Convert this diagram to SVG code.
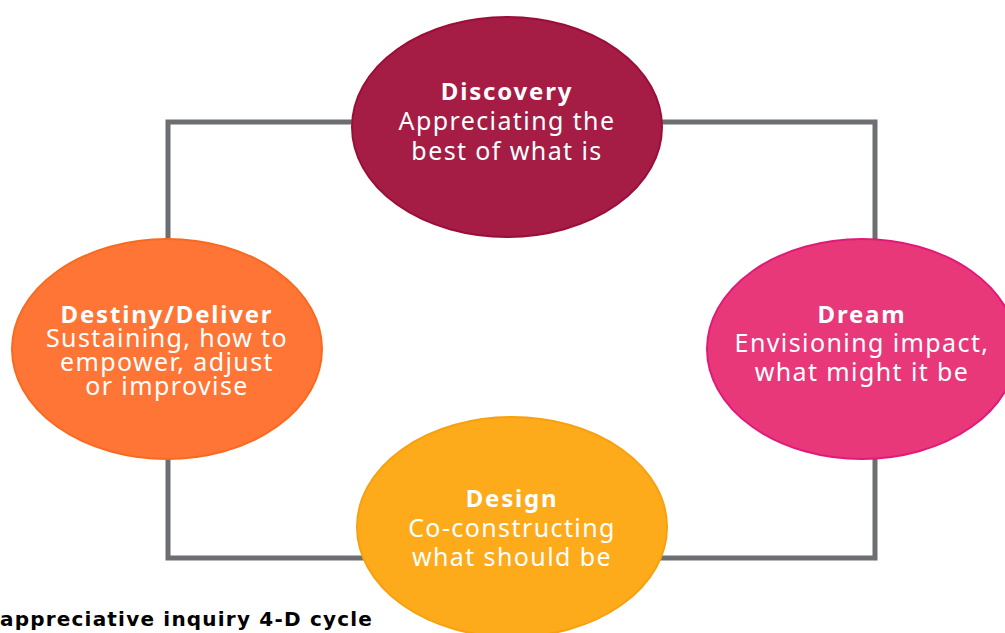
<svg xmlns="http://www.w3.org/2000/svg" width="1005" height="633" viewBox="0 0 1005 633">
<style>
.conn{fill:none;stroke:#6d6e71;stroke-width:5}
.t{font-family:"Noto Sans","Open Sans",sans-serif;fill:#ffffff;text-anchor:middle;font-size:25px;letter-spacing:1.4px}
.h{font-weight:bold;font-size:24px;letter-spacing:1.8px}
.cap{font-family:"DejaVu Sans",Verdana,sans-serif;font-weight:bold;font-size:20px;letter-spacing:1.2px;fill:#000000}
</style>
<rect width="1005" height="633" fill="#ffffff"/>
<g id="connectors">
<rect class="conn" x="168" y="122" width="707" height="436"/>
</g>
<g id="discovery">
<ellipse cx="507" cy="127" rx="155" ry="110" fill="#a51c45" stroke="#9b0e3a" stroke-width="2"/>
<text class="t h" x="507" y="100">Discovery</text>
<text class="t" x="507" y="130">Appreciating the</text>
<text class="t" x="507" y="160">best of what is</text>
</g>
<g id="dream">
<ellipse cx="862" cy="349" rx="155" ry="110" fill="#e8387a" stroke="#e11a79" stroke-width="2"/>
<text class="t h" x="862" y="323">Dream</text>
<text class="t" x="862" y="352">Envisioning impact,</text>
<text class="t" x="862" y="381">what might it be</text>
</g>
<g id="design">
<ellipse cx="512" cy="527" rx="155" ry="110" fill="#fdab1b" stroke="#f8a00d" stroke-width="2"/>
<text class="t h" x="512" y="507">Design</text>
<text class="t" x="512" y="537">Co-constructing</text>
<text class="t" x="512" y="566">what should be</text>
</g>
<g id="destiny">
<ellipse cx="167" cy="349" rx="155" ry="110" fill="#fe7536" stroke="#f96a20" stroke-width="2"/>
<text class="t h" x="167" y="323">Destiny/Deliver</text>
<text class="t" x="167" y="347">Sustaining, how to</text>
<text class="t" x="167" y="371">empower, adjust</text>
<text class="t" x="167" y="395">or improvise</text>
</g>
<text class="cap" x="0" y="626">appreciative inquiry 4-D cycle</text>
</svg>
